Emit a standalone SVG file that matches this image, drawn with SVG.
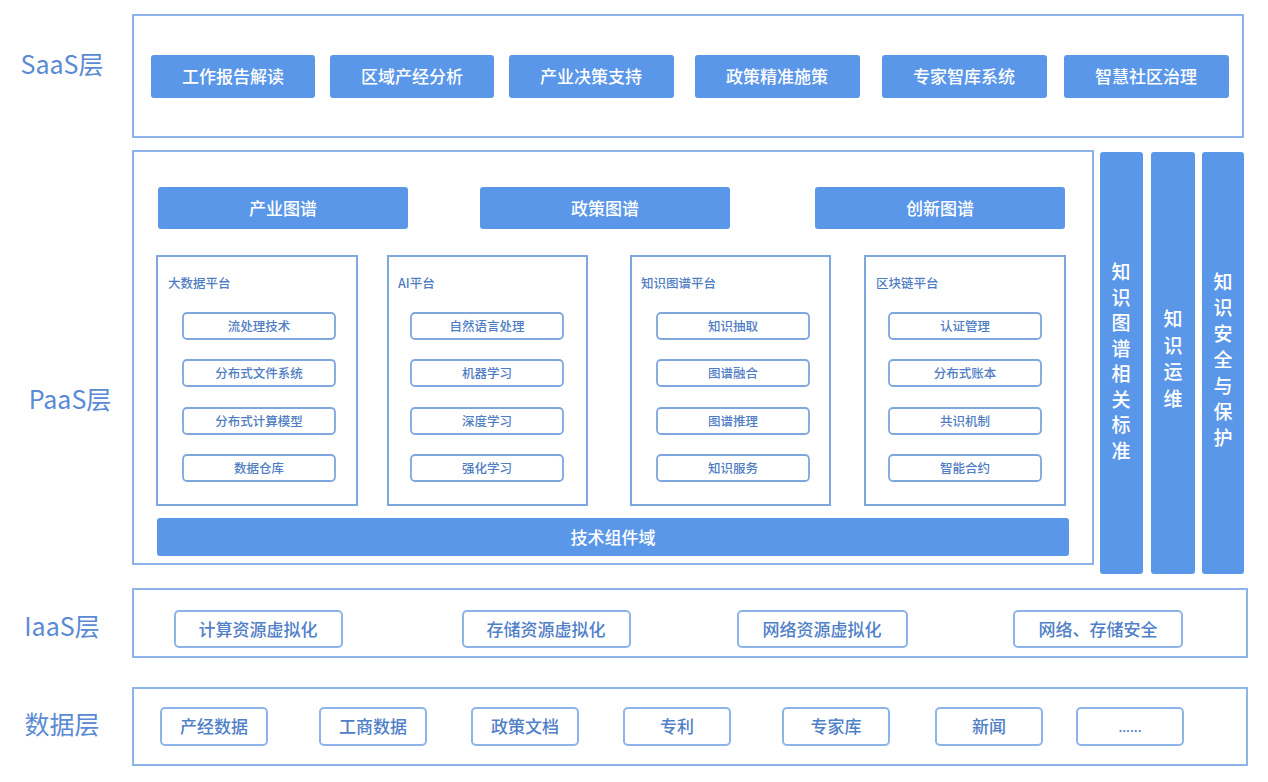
<svg xmlns="http://www.w3.org/2000/svg" width="1268" height="782" viewBox="0 0 1268 782">
<style>
text{font-family:"Noto Sans CJK SC","Noto Sans",sans-serif;text-anchor:middle;dominant-baseline:central}
.layer{fill:#fff;stroke:#8db4ea;stroke-width:2}
.lbl{fill:#5a8ad4;font-size:25px}
.btn{fill:#5b97e9}
.btxt{fill:#fff;font-size:17px;font-weight:500}
.plat{fill:#fff;stroke:#7ea6df;stroke-width:2}
.ptitle{fill:#4f7dc4;font-size:12.5px;text-anchor:start;font-weight:500}
.item{fill:#fff;stroke:#7ea6df;stroke-width:1.8}
.itxt{fill:#4f7dc4;font-size:12.5px;font-weight:500}
.obox{fill:#fff;stroke:#8db4ea;stroke-width:2}
.otxt{fill:#4f80c8;font-size:17px;font-weight:500}
.vtxt{fill:#fff;font-size:19px;font-weight:500}
</style>
<rect width="1268" height="782" fill="#fff"/>

<g id="saas">
<rect class="layer" x="133" y="15" width="1110" height="122"/>
<text class="lbl" x="62" y="63">SaaS层</text>
<rect class="btn" x="151" y="55" width="164" height="43" rx="3"/><text class="btxt" x="233" y="75">工作报告解读</text>
<rect class="btn" x="330" y="55" width="164" height="43" rx="3"/><text class="btxt" x="412" y="75">区域产经分析</text>
<rect class="btn" x="509" y="55" width="165" height="43" rx="3"/><text class="btxt" x="591" y="75">产业决策支持</text>
<rect class="btn" x="695" y="55" width="165" height="43" rx="3"/><text class="btxt" x="777" y="75">政策精准施策</text>
<rect class="btn" x="882" y="55" width="165" height="43" rx="3"/><text class="btxt" x="964" y="75">专家智库系统</text>
<rect class="btn" x="1064" y="55" width="165" height="43" rx="3"/><text class="btxt" x="1146" y="75">智慧社区治理</text>
</g>

<g id="paas">
<rect class="layer" x="133" y="151" width="960" height="413"/>
<text class="lbl" x="70" y="398">PaaS层</text>
<rect class="btn" x="158" y="187" width="250" height="42" rx="3"/><text class="btxt" x="283" y="207">产业图谱</text>
<rect class="btn" x="480" y="187" width="250" height="42" rx="3"/><text class="btxt" x="605" y="207">政策图谱</text>
<rect class="btn" x="815" y="187" width="250" height="42" rx="3"/><text class="btxt" x="940" y="207">创新图谱</text>
</g>

<g id="bigdata">
<rect class="plat" x="157" y="256" width="200" height="249"/>
<text class="ptitle" x="168" y="282">大数据平台</text>
<rect class="item" x="183" y="313" width="152" height="26" rx="4"/><text class="itxt" x="259" y="325">流处理技术</text>
<rect class="item" x="183" y="360" width="152" height="26" rx="4"/><text class="itxt" x="259" y="372">分布式文件系统</text>
<rect class="item" x="183" y="408" width="152" height="26" rx="4"/><text class="itxt" x="259" y="420">分布式计算模型</text>
<rect class="item" x="183" y="455" width="152" height="26" rx="4"/><text class="itxt" x="259" y="467">数据仓库</text>
</g>

<g id="ai">
<rect class="plat" x="388" y="256" width="199" height="249"/>
<text class="ptitle" x="398" y="282">AI平台</text>
<rect class="item" x="411" y="313" width="152" height="26" rx="4"/><text class="itxt" x="487" y="325">自然语言处理</text>
<rect class="item" x="411" y="360" width="152" height="26" rx="4"/><text class="itxt" x="487" y="372">机器学习</text>
<rect class="item" x="411" y="408" width="152" height="26" rx="4"/><text class="itxt" x="487" y="420">深度学习</text>
<rect class="item" x="411" y="455" width="152" height="26" rx="4"/><text class="itxt" x="487" y="467">强化学习</text>
</g>

<g id="kg">
<rect class="plat" x="631" y="256" width="199" height="249"/>
<text class="ptitle" x="641" y="282">知识图谱平台</text>
<rect class="item" x="657" y="313" width="152" height="26" rx="4"/><text class="itxt" x="733" y="325">知识抽取</text>
<rect class="item" x="657" y="360" width="152" height="26" rx="4"/><text class="itxt" x="733" y="372">图谱融合</text>
<rect class="item" x="657" y="408" width="152" height="26" rx="4"/><text class="itxt" x="733" y="420">图谱推理</text>
<rect class="item" x="657" y="455" width="152" height="26" rx="4"/><text class="itxt" x="733" y="467">知识服务</text>
</g>

<g id="blockchain">
<rect class="plat" x="865" y="256" width="200" height="249"/>
<text class="ptitle" x="876" y="282">区块链平台</text>
<rect class="item" x="889" y="313" width="152" height="26" rx="4"/><text class="itxt" x="965" y="325">认证管理</text>
<rect class="item" x="889" y="360" width="152" height="26" rx="4"/><text class="itxt" x="965" y="372">分布式账本</text>
<rect class="item" x="889" y="408" width="152" height="26" rx="4"/><text class="itxt" x="965" y="420">共识机制</text>
<rect class="item" x="889" y="455" width="152" height="26" rx="4"/><text class="itxt" x="965" y="467">智能合约</text>
</g>

<g id="techdomain">
<rect class="btn" x="157" y="518" width="912" height="38" rx="3"/><text class="btxt" x="613" y="536">技术组件域</text>
</g>

<g id="standards">
<rect class="btn" x="1100" y="152" width="43" height="422" rx="3"/>
<text class="vtxt"><tspan x="1121" y="270">知</tspan><tspan x="1121" y="295.5">识</tspan><tspan x="1121" y="321">图</tspan><tspan x="1121" y="346.5">谱</tspan><tspan x="1121" y="372">相</tspan><tspan x="1121" y="397.5">关</tspan><tspan x="1121" y="423">标</tspan><tspan x="1121" y="448.5">准</tspan></text>
</g>
<g id="ops">
<rect class="btn" x="1151" y="152" width="44" height="422" rx="3"/>
<text class="vtxt"><tspan x="1173" y="317">知</tspan><tspan x="1173" y="343.5">识</tspan><tspan x="1173" y="370">运</tspan><tspan x="1173" y="396.5">维</tspan></text>
</g>
<g id="security">
<rect class="btn" x="1202" y="152" width="42" height="422" rx="3"/>
<text class="vtxt"><tspan x="1223" y="280">知</tspan><tspan x="1223" y="306">识</tspan><tspan x="1223" y="332">安</tspan><tspan x="1223" y="358">全</tspan><tspan x="1223" y="384">与</tspan><tspan x="1223" y="410">保</tspan><tspan x="1223" y="436">护</tspan></text>
</g>

<g id="iaas">
<rect class="layer" x="133" y="589" width="1114" height="68"/>
<text class="lbl" x="62" y="625">IaaS层</text>
<rect class="obox" x="175" y="611" width="167" height="36" rx="4"/><text class="otxt" x="258" y="628">计算资源虚拟化</text>
<rect class="obox" x="463" y="611" width="167" height="36" rx="4"/><text class="otxt" x="546" y="628">存储资源虚拟化</text>
<rect class="obox" x="738" y="611" width="169" height="36" rx="4"/><text class="otxt" x="822" y="628">网络资源虚拟化</text>
<rect class="obox" x="1014" y="611" width="168" height="36" rx="4"/><text class="otxt" x="1098" y="628">网络、存储安全</text>
</g>

<g id="data">
<rect class="layer" x="133" y="688" width="1114" height="77"/>
<text class="lbl" x="62" y="723">数据层</text>
<rect class="obox" x="161" y="708" width="106" height="37" rx="4"/><text class="otxt" x="214" y="725">产经数据</text>
<rect class="obox" x="320" y="708" width="106" height="37" rx="4"/><text class="otxt" x="373" y="725">工商数据</text>
<rect class="obox" x="472" y="708" width="106" height="37" rx="4"/><text class="otxt" x="525" y="725">政策文档</text>
<rect class="obox" x="624" y="708" width="106" height="37" rx="4"/><text class="otxt" x="677" y="725">专利</text>
<rect class="obox" x="783" y="708" width="106" height="37" rx="4"/><text class="otxt" x="836" y="725">专家库</text>
<rect class="obox" x="936" y="708" width="106" height="37" rx="4"/><text class="otxt" x="989" y="725">新闻</text>
<rect class="obox" x="1077" y="708" width="106" height="37" rx="4"/><text class="otxt" x="1130" y="726" style="font-size:13px">......</text>
</g>

<g id="connectors"/>
</svg>
